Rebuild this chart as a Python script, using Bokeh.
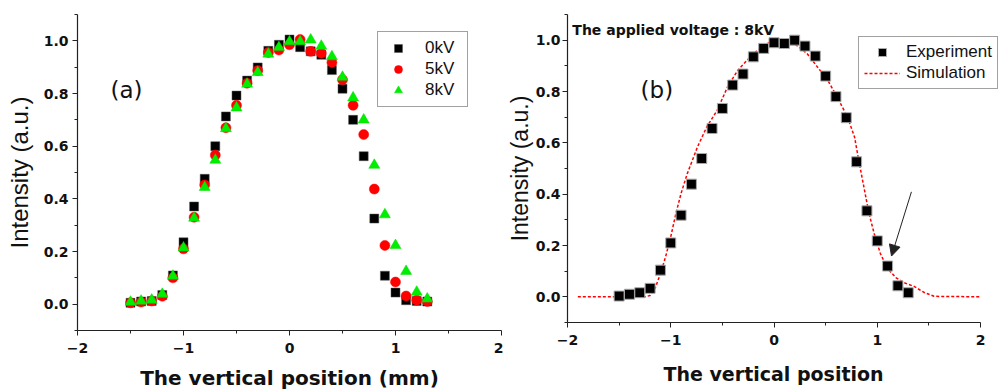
from bokeh.plotting import figure
from bokeh.layouts import row
from bokeh.models import (Range1d, FixedTicker, Legend, LegendItem, Label,
                          Arrow, NormalHead, Title)
from bokeh.embed import file_html
from bokeh.resources import INLINE

# Measurement positions (mm)
position = [-1.5, -1.4, -1.3, -1.2, -1.1, -1.0, -0.9, -0.8, -0.7, -0.6,
            -0.5, -0.4, -0.3, -0.2, -0.1, 0.0, 0.1, 0.2, 0.3, 0.4,
            0.5, 0.6, 0.7, 0.8, 0.9, 1.0, 1.1, 1.2, 1.3]

# Normalised intensity profiles for each applied voltage
intensity_0kv = [0.005, 0.010, 0.012, 0.035, 0.109, 0.235, 0.371, 0.476, 0.600, 0.713,
                 0.792, 0.849, 0.899, 0.962, 0.985, 1.005, 0.976, 0.960, 0.947, 0.889,
                 0.818, 0.700, 0.562, 0.325, 0.108, 0.044, 0.015, 0.012, 0.010]
intensity_5kv = [0.005, 0.008, 0.012, 0.030, 0.100, 0.210, 0.330, 0.453, 0.566, 0.670,
                 0.755, 0.839, 0.887, 0.956, 0.965, 0.985, 1.005, 0.960, 0.953, 0.918,
                 0.852, 0.755, 0.644, 0.437, 0.223, 0.084, 0.031, 0.015, 0.010]
intensity_8kv = [0.008, 0.012, 0.016, 0.038, 0.107, 0.214, 0.327, 0.444, 0.547, 0.667,
                 0.746, 0.836, 0.880, 0.950, 0.975, 0.997, 0.997, 1.004, 0.980, 0.940,
                 0.862, 0.784, 0.700, 0.528, 0.340, 0.223, 0.125, 0.046, 0.020]

# Experiment vs simulation at 8 kV
experiment_8kv = [0.003, 0.010, 0.016, 0.033, 0.104, 0.210, 0.318, 0.439, 0.539, 0.656,
                  0.734, 0.825, 0.868, 0.935, 0.968, 0.990, 0.987, 1.000, 0.977, 0.938,
                  0.860, 0.780, 0.698, 0.526, 0.335, 0.218, 0.120, 0.043, 0.016]
sim_position = [-1.9, -1.25, -1.2, -1.15, -1.1, -1.05, -1.0, -0.95, -0.9, -0.84,
                -0.74, -0.65, -0.55, -0.45, -0.35, -0.26, -0.16, -0.05, 0.05, 0.15,
                0.23, 0.32, 0.42, 0.52, 0.61, 0.71, 0.78, 0.82, 0.87, 0.92,
                0.97, 1.03, 1.1, 1.18, 1.26, 1.36, 1.45, 1.55, 2.0]
sim_intensity = [0.0, 0.0, 0.005, 0.035, 0.09, 0.156, 0.234, 0.325, 0.403, 0.48,
                 0.585, 0.663, 0.727, 0.818, 0.883, 0.922, 0.961, 0.99, 1.0, 0.995,
                 0.977, 0.948, 0.896, 0.844, 0.78, 0.702, 0.623, 0.533, 0.429, 0.325,
                 0.247, 0.169, 0.11, 0.075, 0.055, 0.04, 0.018, 0.002, 0.0]

x_ticks = [-2, -1, 0, 1, 2]
x_tick_labels = ["\u22122", "\u22121", "0", "1", "2"]
x_minor_ticks = [-1.5, -0.5, 0.5, 1.5]
y_ticks = [0.0, 0.2, 0.4, 0.6, 0.8, 1.0]
y_tick_labels = ["0.0", "0.2", "0.4", "0.6", "0.8", "1.0"]
y_minor_ticks = [-0.1, 0.1, 0.3, 0.5, 0.7, 0.9, 1.1]

AXIS_COLOR = "#222222"


def style_axes(p, title_size, label_size):
    p.xaxis.ticker = FixedTicker(ticks=x_ticks, minor_ticks=x_minor_ticks)
    p.xaxis.major_label_overrides = dict(zip(x_ticks, x_tick_labels))
    p.xaxis.bounds = (-2, 2)
    p.yaxis.ticker = FixedTicker(ticks=y_ticks, minor_ticks=y_minor_ticks)
    p.yaxis.major_label_overrides = dict(zip(y_ticks, y_tick_labels))
    for ax in (p.xaxis[0], p.yaxis[0]):
        ax.axis_line_color = AXIS_COLOR
        ax.axis_line_width = 1.2
        ax.major_tick_line_color = AXIS_COLOR
        ax.minor_tick_line_color = AXIS_COLOR
        ax.major_tick_out = 5
        ax.major_tick_in = 0
        ax.minor_tick_out = 3
        ax.minor_tick_in = 0
        ax.major_label_text_font = "DejaVu Sans"
        ax.major_label_text_font_style = "bold"
        ax.major_label_text_font_size = "14px"
        ax.major_label_text_color = "#111111"
        ax.axis_label_text_color = "#111111"
    p.xaxis.major_label_standoff = 7
    p.xaxis.axis_label_standoff = 10
    p.xaxis.axis_label_text_font = "DejaVu Sans"
    p.xaxis.axis_label_text_font_style = "bold"
    p.xaxis.axis_label_text_font_size = title_size
    p.yaxis.axis_label_text_font = "Liberation Sans"
    p.yaxis.axis_label_text_font_style = "normal"
    p.yaxis.axis_label_text_font_size = label_size
    p.xgrid.visible = False
    p.ygrid.visible = False


def legend_style(lg, padding, glyph_width, standoff):
    lg.border_line_color = "#444444"
    lg.border_line_width = 1
    lg.background_fill_color = "white"
    lg.background_fill_alpha = 1
    lg.padding = padding
    lg.spacing = 1
    lg.margin = 0
    lg.glyph_width = glyph_width
    lg.glyph_height = 20
    lg.label_standoff = standoff
    lg.label_text_font = "Liberation Sans"
    lg.label_text_font_size = "17px"
    lg.label_text_color = "#111111"


# (a) profiles at three voltages
pa = figure(frame_width=424, frame_height=316,
            min_border_left=77, min_border_right=2,
            min_border_top=14, min_border_bottom=62,
            x_range=Range1d(-2, 2), y_range=Range1d(-0.1, 1.1),
            x_axis_label="The vertical position (mm)",
            y_axis_label="Intensity (a.u.)",
            output_backend="svg", toolbar_location=None,
            outline_line_color=None, background_fill_color="white")
style_axes(pa, "20px", "24px")
pa.yaxis.major_label_standoff = 4
pa.yaxis.axis_label_standoff = 8

r0 = pa.scatter(position, intensity_0kv, marker="square", size=9,
                fill_color="black", line_color="#555555", line_width=0.5)
r5 = pa.scatter(position, intensity_5kv, marker="circle", size=10,
                fill_color="#ff0000", line_color="#ff0000", line_width=0.5)
r8 = pa.scatter(position, intensity_8kv, marker="triangle", size=11,
                fill_color="#00ee00", line_color="#00dd00", line_width=0.5)

leg_a = Legend(items=[LegendItem(label="0kV", renderers=[r0]),
                      LegendItem(label="5kV", renderers=[r5]),
                      LegendItem(label="8kV", renderers=[r8])],
               location=(300, 223))
legend_style(leg_a, 6, 28, 13)
leg_a.label_width = 36
pa.add_layout(leg_a)

pa.add_layout(Label(x=-1.689, y=0.814, text="(a)", text_font="DejaVu Sans",
                    text_font_size="23px", text_align="left",
                    text_baseline="alphabetic", text_color="#111111"))

# (b) experiment against simulation at 8 kV; the frame runs on past x = 2
# so the legend can reach the right edge, while the axis line stops at 2
pb = figure(frame_width=435, frame_height=308,
            min_border_left=63, min_border_right=0,
            min_border_top=14, min_border_bottom=70,
            x_range=Range1d(-2, 2.213), y_range=Range1d(-0.1, 1.1),
            y_axis_label="Intensity (a.u.)",
            output_backend="svg", toolbar_location=None,
            outline_line_color=None, background_fill_color="white")
style_axes(pb, "19px", "23px")
pb.yaxis.major_label_standoff = 2
pb.yaxis.axis_label_standoff = 0

# x title centred under the -2..2 span rather than the wider frame
pb.add_layout(Title(text="The vertical position", align="left", offset=96,
                    standoff=26, vertical_align="bottom",
                    text_font="DejaVu Sans",
                    text_font_style="bold", text_font_size="19px",
                    text_color="#111111"), "below")

rs = pb.line(sim_position, sim_intensity, line_color="#ff0000",
             line_width=1.5, line_dash="3 2")
re = pb.scatter(position, experiment_8kv, marker="square", size=10,
                fill_color="black", line_color="#aaaaaa", line_width=1)

leg_b = Legend(items=[LegendItem(label="Experiment", renderers=[re]),
                      LegendItem(label="Simulation", renderers=[rs])],
               location=(291, 233))
legend_style(leg_b, 5, 36, 6)
pb.add_layout(leg_b)

pb.add_layout(Label(x=-1.953, y=1.040, text="The applied voltage : 8kV",
                    text_font="DejaVu Sans", text_font_style="bold",
                    text_font_size="14px", text_align="left",
                    text_baseline="alphabetic", text_color="#111111"))
pb.add_layout(Label(x=-1.292, y=0.806, text="(b)", text_font="DejaVu Sans",
                    text_font_size="23px", text_align="left",
                    text_baseline="alphabetic", text_color="#111111"))
pb.add_layout(Arrow(end=NormalHead(size=11, fill_color="#222222",
                                   line_color="#222222"),
                    x_start=1.331, y_start=0.409, x_end=1.138, y_end=0.159,
                    line_color="#222222", line_width=1))

layout = row(pa, pb)
open("out.html", "w").write(file_html(layout, INLINE))
